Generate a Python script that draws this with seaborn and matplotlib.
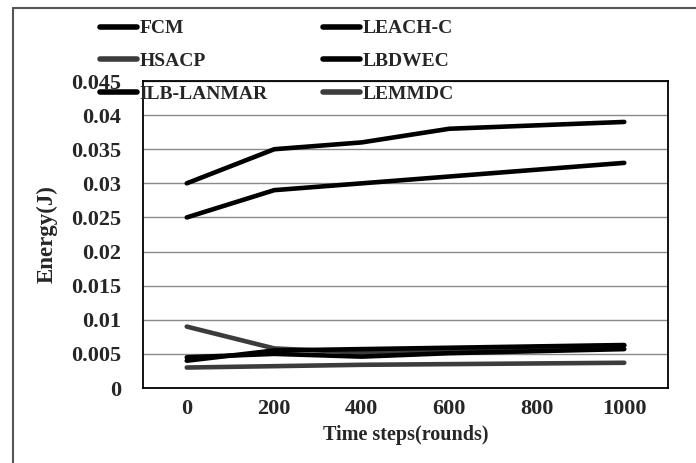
import pandas as pd
import seaborn as sns
import matplotlib.pyplot as plt
from matplotlib.lines import Line2D

# Values
rounds = ['0', '200', '400', '600', '800', '1000']
fcm = [0.030, 0.035, 0.036, 0.038, 0.0385, 0.039]
hsacp = [0.009, 0.0058, 0.0052, 0.0055, 0.0060, 0.0062]
ilb_lanmar = [0.0040, 0.0055, 0.0057, 0.0059, 0.0061, 0.0063]
leach_c = [0.025, 0.029, 0.030, 0.031, 0.032, 0.033]
lbdwec = [0.0045, 0.0050, 0.0046, 0.0051, 0.0054, 0.0057]
lemmdc = [0.0030, 0.0032, 0.0034, 0.0035, 0.0036, 0.0037]

series_names = ['FCM', 'HSACP', 'ILB-LANMAR', 'LEACH-C', 'LBDWEC', 'LEMMDC']
series_vals = [fcm, hsacp, ilb_lanmar, leach_c, lbdwec, lemmdc]
series_colors = ['#000000', '#3c3c3c', '#000000', '#000000', '#000000', '#3c3c3c']

y_ticks = [0, 0.005, 0.01, 0.015, 0.02, 0.025, 0.03, 0.035, 0.04, 0.045]
y_tick_labels = ['0', '0.005', '0.01', '0.015', '0.02', '0.025', '0.03', '0.035', '0.04', '0.045']

# Long format table for seaborn
rows = []
for name, vals in zip(series_names, series_vals):
    for r, v in zip(rounds, vals):
        rows.append({'Round': r, 'Energy': v, 'Method': name})
df = pd.DataFrame(rows)

sns.set_style('white')
plt.rcParams['font.family'] = ['Liberation Serif', 'DejaVu Serif']
plt.rcParams['font.weight'] = 'bold'

fig = plt.figure(figsize=(6.96, 4.63), dpi=100)
ax = fig.add_axes([143 / 696, 1 - 388 / 463, (668 - 143) / 696, (388 - 81) / 463])

sns.lineplot(data=df, x='Round', y='Energy', hue='Method', hue_order=series_names,
             palette=dict(zip(series_names, series_colors)), linewidth=3.3,
             sort=False, legend=False, ax=ax)

ax.set_xlim(-0.5, len(rounds) - 0.5)
ax.set_ylim(0, 0.045)
ax.set_yticks(y_ticks)
ax.set_yticklabels(y_tick_labels, fontsize=16, fontweight='bold')
ax.set_xticks(range(len(rounds)))
ax.set_xticklabels(rounds, fontsize=16, fontweight='bold')
ax.set_xticks([i - 0.5 for i in range(len(rounds) + 1)], minor=True)
ax.tick_params(axis='x', which='major', length=0, pad=8)
ax.tick_params(axis='x', which='minor', length=5, width=1.2, direction='out', color='black')
ax.tick_params(axis='y', length=6, width=1.2, direction='out', color='black', pad=10)
ax.yaxis.grid(True, color='#8a8a8a', linewidth=1.0)
ax.set_axisbelow(True)
for sp in ax.spines.values():
    sp.set_color('black')
    sp.set_linewidth(1.3)

ax.set_xlabel('Time steps(rounds)', fontsize=14.5, fontweight='bold', labelpad=4)
ax.set_ylabel('Energy(J)', fontsize=16.5, fontweight='bold')
ax.yaxis.set_label_coords(-0.162, 0.5)

handles = [Line2D([], [], color=c, linewidth=4) for c in series_colors]
fig.legend(handles, series_names, ncol=2, frameon=False, loc='upper left',
           bbox_to_anchor=(90 / 696, 1 - 10 / 463), handlelength=1.9,
           handletextpad=0.15, columnspacing=2.85, labelspacing=0.78, borderpad=0,
           prop={'weight': 'bold', 'size': 14})

# outer frame of the original figure (top and left edges visible)
fig.add_artist(Line2D([13 / 696, 1], [1 - 8 / 463, 1 - 8 / 463], transform=fig.transFigure,
                      color='#555555', linewidth=1.5))
fig.add_artist(Line2D([13 / 696, 13 / 696], [0, 1 - 8 / 463], transform=fig.transFigure,
                      color='#555555', linewidth=1.5))

plt.savefig('out.png', dpi=100)
